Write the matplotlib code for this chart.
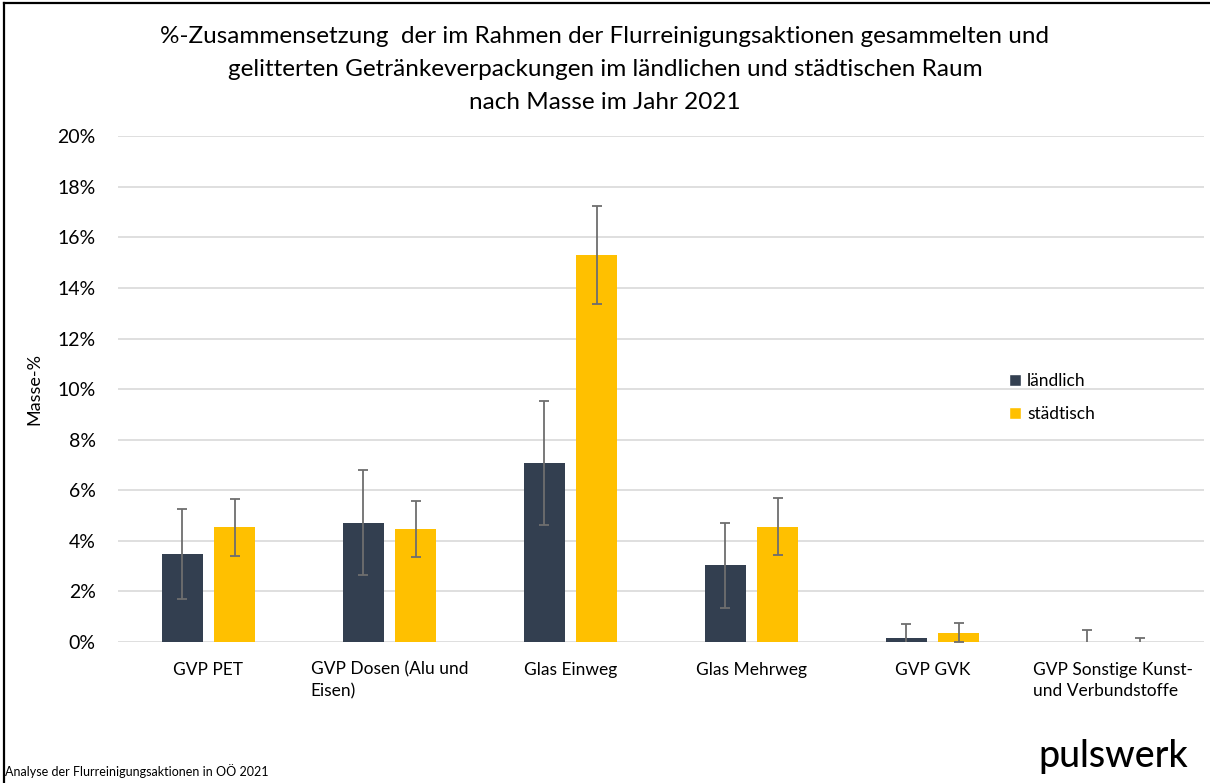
import numpy as np
import matplotlib.pyplot as plt
from matplotlib.lines import Line2D
from matplotlib.ticker import PercentFormatter

# data (Masse-%)
categories = ['GVP PET', 'GVP Dosen (Alu und\nEisen)', 'Glas Einweg', 'Glas Mehrweg',
              'GVP GVK', 'GVP Sonstige Kunst-\nund Verbundstoffe']
laendlich = [3.48, 4.72, 7.07, 3.03, 0.15, 0.0]
laendlich_err = [1.78, 2.07, 2.45, 1.69, 0.56, 0.48]
staedtisch = [4.53, 4.47, 15.3, 4.56, 0.37, 0.0]
staedtisch_err = [1.13, 1.12, 1.95, 1.13, 0.37, 0.17]

plt.rcParams['font.family'] = ['Lato', 'DejaVu Sans']

fig = plt.figure(figsize=(12.1, 7.83), dpi=100)
ax = fig.add_axes([0.0975, 0.180, 0.8975, 0.646])

x = np.arange(len(categories))
w = 0.227
off = 0.144
dark = '#333F50'
yellow = '#FFC000'
errcol = '#6E6E6E'

ax.bar(x - off, laendlich, w, color=dark, zorder=3, label='ländlich')
ax.bar(x + off, staedtisch, w, color=yellow, zorder=3, label='städtisch')
ax.errorbar(x - off, laendlich, yerr=laendlich_err, fmt='none', ecolor=errcol,
            elinewidth=1.3, capsize=3.5, capthick=1.3, zorder=4)
ax.errorbar(x + off, staedtisch, yerr=staedtisch_err, fmt='none', ecolor=errcol,
            elinewidth=1.3, capsize=3.5, capthick=1.3, zorder=4)

ax.set_xlim(-0.5, len(categories) - 0.5)
ax.set_ylim(0, 20)
ax.set_yticks(np.arange(0, 21, 2))
ax.yaxis.set_major_formatter(PercentFormatter(decimals=0))
ax.grid(axis='y', color='#D9D9D9', linewidth=1.2, zorder=0)
for s in ax.spines.values():
    s.set_visible(False)
ax.tick_params(axis='both', length=0, colors='#000000')
ax.tick_params(axis='y', pad=16, labelsize=14)
ax.tick_params(axis='x', pad=14, labelsize=12.5)
ax.set_xticks(x)
ax.set_xticklabels(categories, va='top', multialignment='left', linespacing=1.45)
ax.set_ylabel('Masse-%', fontsize=13)
ax.yaxis.set_label_coords(-0.07, 0.5)

handles = [Line2D([], [], marker='s', color='w', markerfacecolor=dark, markersize=9),
           Line2D([], [], marker='s', color='w', markerfacecolor=yellow, markersize=9)]
ax.legend(handles, ['ländlich', 'städtisch'], loc='upper left', bbox_to_anchor=(0.805, 0.562),
          frameon=False, fontsize=12.5, handlelength=0.8, handletextpad=0.3, labelspacing=0.95)

fig.text(0.5, 0.967, '%-Zusammensetzung  der im Rahmen der Flurreinigungsaktionen gesammelten und\n'
         'gelitterten Getränkeverpackungen im ländlichen und städtischen Raum\n'
         'nach Masse im Jahr 2021', ha='center', va='top', fontsize=17.5, linespacing=1.7)

fig.text(0.004, 0.006, 'Analyse der Flurreinigungsaktionen in OÖ 2021', fontsize=9, ha='left', va='bottom')
fig.text(0.982, 0.012, 'pulswerk', fontsize=27, ha='right', va='bottom', fontweight='medium')

# figure frame (left and top visible)
fig.add_artist(Line2D([0.003, 0.003], [0, 0.996], transform=fig.transFigure, color='black', linewidth=1.6))
fig.add_artist(Line2D([0.003, 1.0], [0.996, 0.996], transform=fig.transFigure, color='black', linewidth=1.6))

fig.savefig('out.png', dpi=100)
